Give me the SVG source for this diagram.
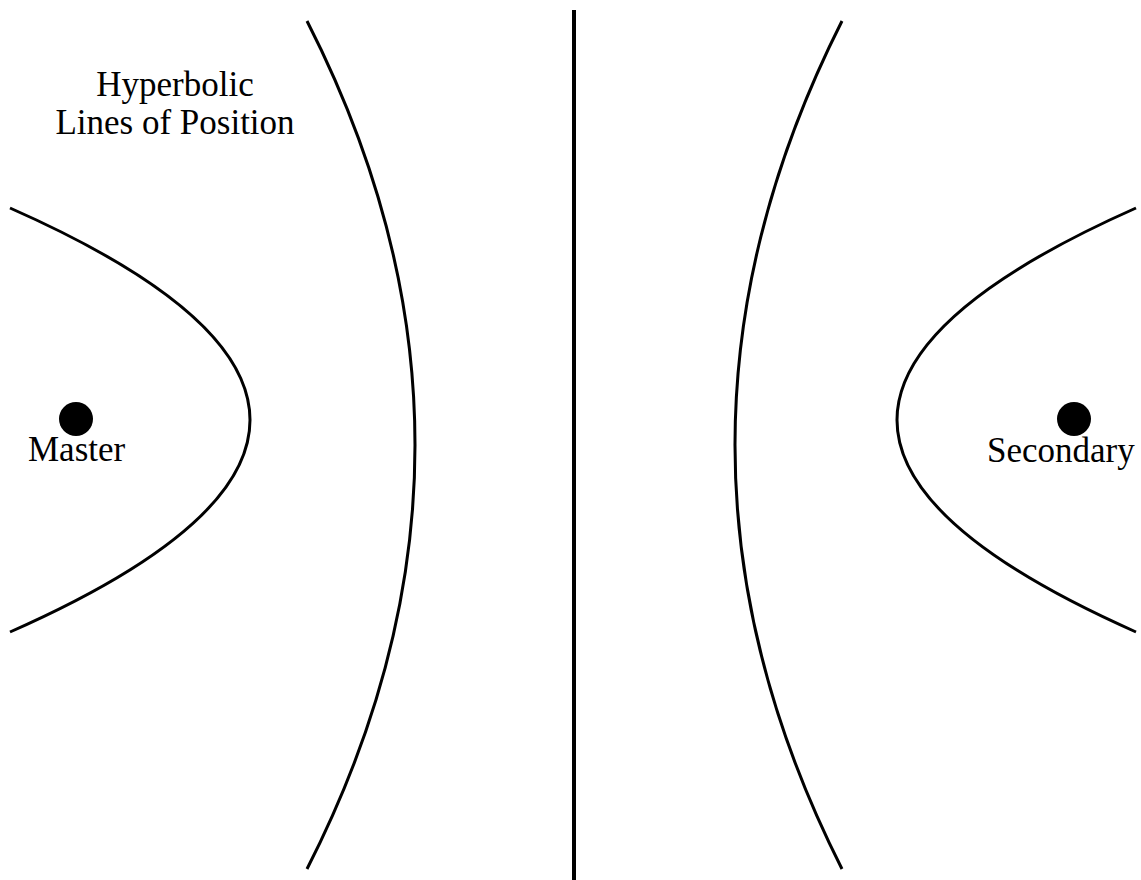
<svg xmlns="http://www.w3.org/2000/svg" width="1141" height="880" viewBox="0 0 1141 880">
<style>
.c{fill:none;stroke:#000;stroke-width:3}
.t{font-family:"Liberation Serif","Times New Roman",serif;font-size:35px;fill:#000}
</style>
<rect width="1141" height="880" fill="#fff"/>
<g id="lines">
<line x1="574" y1="10" x2="574" y2="880" stroke="#000" stroke-width="4"/>
<path class="c" d="M10,208 Q490,420 10,632"/>
<path class="c" d="M1136,208 Q658,420 1136,632"/>
<path class="c" d="M307,21 Q523,445 307,869"/>
<path class="c" d="M842,21 Q628,445 842,869"/>
</g>
<g id="master">
<circle cx="76" cy="419" r="17" fill="#000"/>
<text class="t" x="28" y="461">Master</text>
</g>
<g id="secondary">
<circle cx="1074" cy="419" r="17" fill="#000"/>
<text class="t" x="987" y="462">Secondary</text>
</g>
<g id="label">
<text class="t" x="175" y="96" text-anchor="middle">Hyperbolic</text>
<text class="t" x="175" y="134" text-anchor="middle">Lines of Position</text>
</g>
</svg>
